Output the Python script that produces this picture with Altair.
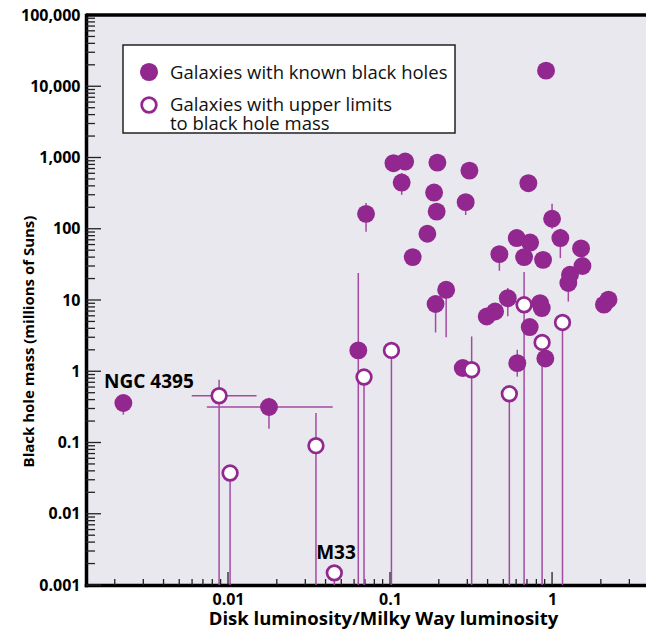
import altair as alt
import pandas as pd

# ---------------- data ----------------
# galaxies with measured black-hole masses
known_lum = [0.00226, 0.0179, 0.0637, 0.0711, 0.105, 0.124, 0.118, 0.138, 0.170, 0.187,
             0.194, 0.196, 0.191, 0.222, 0.281, 0.293, 0.309, 0.395, 0.445, 0.473,
             0.533, 0.610, 0.605, 0.672, 0.714, 0.728, 0.732, 0.843, 0.864, 0.880,
             0.909, 0.918, 1.00, 1.125, 1.26, 1.29, 1.51, 1.54, 2.09, 2.23]
known_mass = [0.358, 0.315, 1.96, 162, 832, 877, 445, 40, 85, 322,
              174, 848, 8.8, 13.9, 1.11, 236, 655, 5.87, 6.9, 44,
              10.6, 1.30, 74, 40, 436, 4.17, 64, 9.05, 7.7, 36.6,
              1.51, 16550, 138, 74, 17.3, 22.6, 53, 30, 8.6, 10.1]

# galaxies with only upper limits
upper_lum = [0.00881, 0.0103, 0.0349, 0.0453, 0.0691, 0.102, 0.319, 0.545, 0.672, 0.868, 1.16]
upper_mass = [0.453, 0.0373, 0.0902, 0.00148, 0.829, 1.96, 1.05, 0.483, 8.57, 2.54, 4.84]

# vertical error bars / upper-limit lines (luminosity, low mass, high mass)
verr_lum = [0.00226, 0.0179, 0.0637, 0.0711, 0.118, 0.293, 1.00, 1.125, 0.473, 1.26,
            0.222, 0.191, 0.533, 0.610,
            0.00881, 0.0103, 0.0349, 0.0453, 0.0691, 0.102, 0.319, 0.545, 0.672, 0.868, 1.16]
verr_lo = [0.246, 0.156, 0.001, 91, 299, 156, 100, 38.7, 25.7, 9.5,
           3.0, 3.5, 5.9, 0.84,
           0.001, 0.001, 0.001, 0.001, 0.001, 0.001, 0.001, 0.001, 0.001, 0.001, 0.001]
verr_hi = [0.40, 0.425, 24, 229, 605, 260, 224, 100, 57, 22,
           16, 10.5, 14.7, 2.0,
           0.76, 0.0373, 0.259, 0.00148, 0.829, 1.96, 3.08, 0.483, 24.7, 2.54, 4.84]

# horizontal error bars (mass, low luminosity, high luminosity)
herr_mass = [0.315, 0.453]
herr_lo = [0.0074, 0.00597]
herr_hi = [0.0443, 0.0150]

# annotations
ann_text = ["NGC 4395", "M33"]
ann_lum = [0.00325, 0.0464]
ann_mass = [0.70, 0.00281]

legend_labels = ["Galaxies with known black holes",
                 "Galaxies with upper limits\nto black hole mass"]

# axis ticks
X_MIN, X_MAX = 0.001329, 3.80
x_major = [0.01, 0.1, 1]
x_minor = [k * 10.0 ** e for e in range(-3, 1) for k in range(2, 10)
           if X_MIN < k * 10.0 ** e < X_MAX]
y_major = [0.001, 0.01, 0.1, 1, 10, 100, 1000, 10000, 100000]
y_minor = [k * 10.0 ** e for e in range(-3, 5) for k in range(2, 10)]
top_edge = [100000]

# ---------------- styling ----------------
PURPLE = "#92278f"
LINE = "#a24ba1"
FONT = "Open Sans"
W, H = 560, 570

xscale = alt.Scale(type="log", domain=[X_MIN, X_MAX], nice=False)
yscale = alt.Scale(type="log", domain=[0.001, 100000], nice=False)

xaxis = alt.Axis(values=x_major, format="~g", title="Disk luminosity/Milky Way luminosity",
                 ticks=False, tickSize=0, grid=False, labelPadding=6,
                 titleX=297, titleY=39, titleAlign="center", titleBaseline="alphabetic",
                 titleFontSize=18.5)
yaxis = alt.Axis(values=y_major, format=",.3~f", title="Black hole mass (millions of Suns)",
                 ticks=False, tickSize=0, grid=False, labelPadding=6,
                 titleX=-53, titleY=326, titleAngle=270, titleAlign="center",
                 titleBaseline="alphabetic", titleFontSize=15)


def X(field):
    return alt.X(field, type="quantitative", scale=xscale, axis=xaxis)


def Y(field):
    return alt.Y(field, type="quantitative", scale=yscale, axis=yaxis)


known = pd.DataFrame({"lum": known_lum, "mass": known_mass})
upper = pd.DataFrame({"lum": upper_lum, "mass": upper_mass})
verr = pd.DataFrame({"lum": verr_lum, "lo": verr_lo, "hi": verr_hi})
herr = pd.DataFrame({"mass": herr_mass, "lo": herr_lo, "hi": herr_hi})
ann = pd.DataFrame({"t": ann_text, "lum": ann_lum, "mass": ann_mass})
one = pd.DataFrame({"k": [0]})

# ticks pointing into the plot
ytick_major = alt.Chart(pd.DataFrame({"v": y_major})).mark_rule(color="#222", strokeWidth=1.3).encode(
    y=Y("v"), x=alt.value(0), x2=alt.value(15))
ytick_minor = alt.Chart(pd.DataFrame({"v": y_minor})).mark_rule(color="#222", strokeWidth=1.3).encode(
    y=Y("v"), x=alt.value(0), x2=alt.value(9))
xtick_major = alt.Chart(pd.DataFrame({"v": x_major})).mark_rule(color="#222", strokeWidth=1.3).encode(
    x=X("v"), y=alt.value(H), y2=alt.value(H - 13))
xtick_minor = alt.Chart(pd.DataFrame({"v": x_minor})).mark_rule(color="#222", strokeWidth=1.3).encode(
    x=X("v"), y=alt.value(H), y2=alt.value(H - 6))
top_line = alt.Chart(pd.DataFrame({"v": top_edge})).mark_rule(color="black", strokeWidth=3.5).encode(
    y=Y("v"))

vbars = alt.Chart(verr).mark_rule(color=LINE, strokeWidth=1.5).encode(
    x=X("lum"), y=Y("lo"), y2="hi")
hbars = alt.Chart(herr).mark_rule(color=LINE, strokeWidth=1.5).encode(
    y=Y("mass"), x=X("lo"), x2="hi")

filled_pts = alt.Chart(known).mark_circle(size=320, color=PURPLE, opacity=1).encode(
    x=X("lum"), y=Y("mass"))
open_pts = alt.Chart(upper).mark_point(shape="circle", filled=True, fill="white", stroke=PURPLE,
                                       strokeWidth=2.7, size=215, opacity=1).encode(
    x=X("lum"), y=Y("mass"))

labels = alt.Chart(ann).mark_text(font=FONT, fontWeight="bold", fontSize=19, color="black",
                                  align="center", baseline="middle").encode(
    x=X("lum"), y=Y("mass"), text="t:N")

# legend box
leg_box = alt.Chart(one).mark_rect(fill="white", stroke="#222", strokeWidth=1.5).encode(
    x=alt.value(37), x2=alt.value(369), y=alt.value(30), y2=alt.value(118))
leg_sym1 = alt.Chart(one).mark_circle(size=330, color=PURPLE, opacity=1).encode(
    x=alt.value(63), y=alt.value(57))
leg_sym2 = alt.Chart(one).mark_point(shape="circle", filled=True, fill="white", stroke=PURPLE,
                                     strokeWidth=2.7, size=215, opacity=1).encode(
    x=alt.value(63), y=alt.value(90))
leg_txt1 = alt.Chart(pd.DataFrame({"t": [legend_labels[0]]})).mark_text(
    font=FONT, fontSize=18.5, color="#111", align="left", baseline="alphabetic").encode(
    x=alt.value(84), y=alt.value(63.5), text="t:N")
leg_txt2 = alt.Chart(pd.DataFrame({"t": [legend_labels[1]]})).mark_text(
    font=FONT, fontSize=18.5, color="#111", align="left", baseline="alphabetic",
    lineBreak="\n", lineHeight=19.5).encode(
    x=alt.value(84), y=alt.value(95.5), text="t:N")

chart = alt.layer(
    ytick_minor, ytick_major, xtick_minor, xtick_major, top_line,
    vbars, hbars, filled_pts, open_pts, labels,
    leg_box, leg_sym1, leg_sym2, leg_txt1, leg_txt2
).properties(
    width=W, height=H,
    padding={"left": 78, "top": 7, "right": 0, "bottom": 44},
    autosize=alt.AutoSizeParams(type="none"),
    background="white",
).configure_view(
    fill="#e9e8ee", stroke="transparent"
).configure_axis(
    domainColor="black", domainWidth=3.5, domainCap="square",
    labelFont=FONT, labelFontWeight="bold", labelFontSize=16, labelColor="black",
    titleFont=FONT, titleFontWeight="bold", titleColor="black",
)

chart.save("out.html", embed_options={"renderer": "svg", "actions": False})
